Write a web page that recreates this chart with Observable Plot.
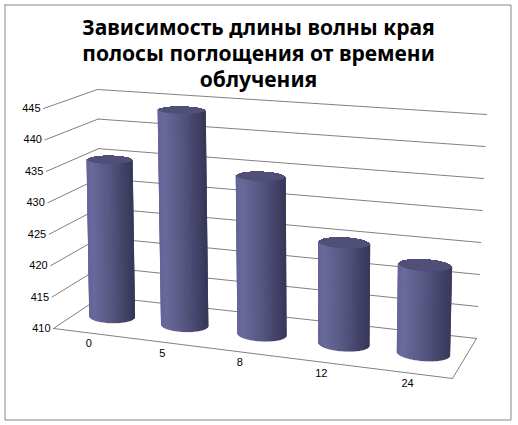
<!DOCTYPE html>
<html><head><meta charset="utf-8">
<script src="https://cdn.jsdelivr.net/npm/d3@7"></script>
<script src="https://cdn.jsdelivr.net/npm/@observablehq/plot@0.6"></script>
<style>html,body{margin:0;padding:0;background:#fff}svg{display:block}</style>
</head><body><div id="chart"></div>
<script>
const titleLines = ["Зависимость длины волны края","полосы поглощения от времени","облучения"];
const categories = ["0","5","8","12","24"];
const values = [435.5, 444.4, 434.9, 425.7, 423.5];
const yTicks = [410,415,420,425,430,435,440,445];

// Oblique view of the chart box: floor and ceiling corners (front-left, front-right, back-right, back-left)
const vMin = 410, vMax = 445;
const floorQuad = [[53,328],[452,378],[476,338],[101,296]];
const ceilQuad  = [[43,108],[466,140],[486,114],[97,89]];
const slotU = [.1035,.306,.511,.717,.907];
const radiusU = 0.06, radiusD = 0.17, barLean = 0.5, slotD = 0.47;

function homography(q){
  const [[x0,y0],[x1,y1],[x2,y2],[x3,y3]] = q;
  const dx1=x1-x2,dx2=x3-x2,sx=x0-x1+x2-x3,dy1=y1-y2,dy2=y3-y2,sy=y0-y1+y2-y3;
  const den=dx1*dy2-dx2*dy1;
  const g=(sx*dy2-dx2*sy)/den,h=(dx1*sy-sx*dy1)/den;
  const a=x1-x0+g*x1,b=x3-x0+h*x3,c=x0,d=y1-y0+g*y1,e=y3-y0+h*y3,f=y0;
  return (u,v)=>{const w=g*u+h*v+1;return [(a*u+b*v+c)/w,(d*u+e*v+f)/w];};
}
const floorH = homography(floorQuad), ceilH = homography(ceilQuad);
function project(u,d,v,lean=1){
  const t=(v-vMin)/(vMax-vMin), p=floorH(u,d), q=ceilH(u,d);
  return [p[0]+(q[0]-p[0])*t*lean, p[1]+(q[1]-p[1])*t];
}
const shade = d3.scaleLinear().domain([0,.12,.45,.8,1]).range(["#65659a","#6a6a9c","#5a5a86","#44446a","#3a3a5c"]).interpolate(d3.interpolateRgb);

const N=120, strips=[], caps=[];
values.forEach((val,i)=>{
  const u0=slotU[i], d0=slotD;
  const circ=(th,v)=>project(u0+radiusU*Math.cos(th),d0+radiusD*Math.sin(th),v,barLean);
  const ths=d3.range(N).map(k=>k*2*Math.PI/N);
  const iL=d3.minIndex(ths,t=>circ(t,vMin)[0]), iR=d3.maxIndex(ths,t=>circ(t,vMin)[0]);
  const xL=circ(ths[iL],vMin)[0], xR=circ(ths[iR],vMin)[0];
  let k=iL;
  while(k!==iR){
    const n=(k+1)%N, id=i+"-"+k;
    const t0=ths[k], t1=ths[n];
    const f=((circ(t0,vMin)[0]+circ(t1,vMin)[0])/2-xL)/(xR-xL);
    const color=d3.color(shade(f)).formatHex();
    for(const t of [t0,t1]){
      const a=circ(t,val), b=circ(t,vMin);
      strips.push({id,color,x1:a[0],y1:a[1],x2:b[0],y2:b[1]});
    }
    k=n;
  }
  d3.range(0,N/2+1).forEach(j=>{
    const t=j*2*Math.PI/N, a=circ(t,val), b=circ(-t,val);
    caps.push({id:i,x1:a[0],y1:a[1],x2:b[0],y2:b[1]});
  });
});
const gridBack = yTicks.flatMap(v=>[{v,p:project(0,1,v)},{v,p:project(1,1,v)}]);
const gridSide = yTicks.flatMap(v=>[{v,p:project(0,0,v)},{v,p:project(0,1,v)}]);
const floorEdges = [[0,0],[1,0],[1,1]].map(([u,d])=>project(u,d,vMin));
const frameBox = [[4.5,4.5],[510.5,4.5],[510.5,419.5],[4.5,419.5],[4.5,4.5]];
const font="Liberation Sans";

const chart = Plot.plot({
  width:518,height:425,margin:0,
  x:{type:"linear",domain:[0,518],range:[0,518],axis:null},
  y:{type:"linear",domain:[0,425],range:[0,425],axis:null},
  style:{background:"#fff"},
  marks:[
    Plot.line(frameBox,{x:d=>d[0],y:d=>d[1],stroke:"#868686",strokeWidth:1}),
    Plot.line(gridBack,{x:d=>d.p[0],y:d=>d.p[1],z:"v",stroke:"#808080",strokeWidth:1}),
    Plot.line(gridSide,{x:d=>d.p[0],y:d=>d.p[1],z:"v",stroke:"#808080",strokeWidth:1}),
    Plot.line(floorEdges,{x:d=>d[0],y:d=>d[1],stroke:"#808080",strokeWidth:1}),
    Plot.area(strips,{x1:"x1",y1:"y1",x2:"x2",y2:"y2",z:"id",fill:"color",shapeRendering:"crispEdges",stroke:"color",strokeWidth:0.5}),
    Plot.area(caps,{x1:"x1",y1:"y1",x2:"x2",y2:"y2",z:"id",fill:"#4f4f77",shapeRendering:"crispEdges"}),
    Plot.text(yTicks,{x:v=>project(0,0,v)[0],y:v=>project(0,0,v)[1],text:d=>String(d),textAnchor:"end",dx:-3,fontFamily:font,fontSize:11,fill:"#000"}),
    Plot.text(categories,{x:(c,i)=>project((i+.5)/categories.length,0,vMin)[0],y:(c,i)=>project((i+.5)/categories.length,0,vMin)[1],text:d=>d,dx:0,dy:11,fontFamily:font,fontSize:11,fill:"#000"}),
    Plot.text(titleLines,{x:()=>258,y:(d,i)=>28+26*i,text:d=>d,fontFamily:"Noto Sans",fontWeight:"bold",fontSize:21,fill:"#000"})
  ]
});
document.getElementById("chart").append(chart);
</script></body></html>
